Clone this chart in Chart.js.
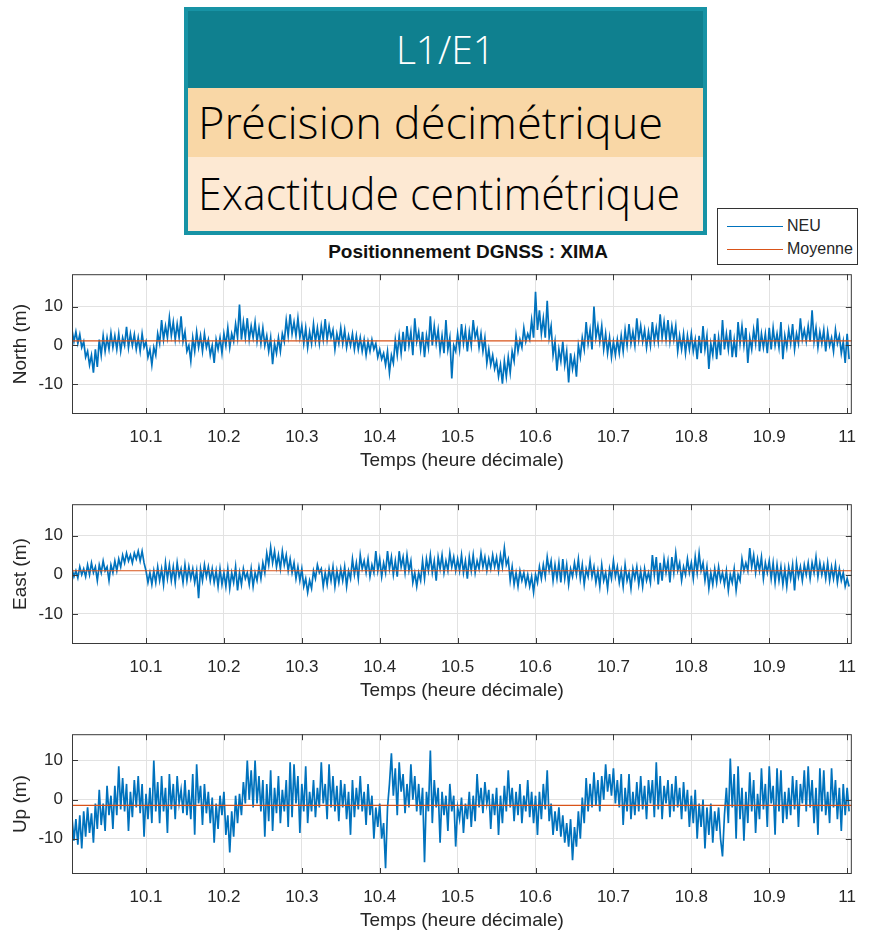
<!DOCTYPE html>
<html lang="fr">
<head>
<meta charset="utf-8">
<title>Positionnement DGNSS : XIMA</title>
<script src="https://cdn.jsdelivr.net/npm/chart.js@4.4.1/dist/chart.umd.min.js"></script>
<style>
  html, body { margin: 0; padding: 0; background: #fff; }
  body { position: relative; width: 869px; height: 932px; overflow: hidden; font-family: "Liberation Sans", Arial, sans-serif; }
  #card { position: absolute; left: 184px; top: 7px; width: 523px; height: 228px; box-sizing: border-box;
          border: 4px solid #1793a5; font-family: "Open Sans Light", "Lato Light", "Open Sans", sans-serif; font-weight: 300; }
  #card > div { white-space: nowrap; overflow: hidden; }
  #card .head { height: 77px; line-height: 77px; background: #0f808f; color: #fff; text-align: center; font-size: 38px; }
  #card .row { padding-left: 10px; color: #000; font-size: 44px; }
  #card .r1 { height: 69px; line-height: 69px; background: #f9d7a6; }
  #card .r2 { height: 74px; line-height: 72px; background: #fde9d3; }
  .fit { display: inline-block; transform-origin: 0 50%; }
  .head .fit { transform-origin: 50% 50%; }
  #title { position: absolute; left: 72px; width: 792px; top: 241px; text-align: center; font-weight: bold; font-size: 19px; color: #111; }
  #legend { position: absolute; left: 717px; top: 208px; width: 141px; height: 57px; box-sizing: border-box;
            border: 1px solid #333; background: #fff; z-index: 2; font-size: 16px; color: #262626; }
  #legend .swatch { position: absolute; left: 9px; width: 56px; height: 0; border-top: 1.5px solid; }
  #legend .txt { position: absolute; left: 69px; line-height: 18px; }
  canvas { position: absolute; left: 0; }
</style>
</head>
<body>
<div id="card">
  <div class="head"><span class="fit" data-w="99">L1/E1</span></div>
  <div class="row r1"><span class="fit" data-w="465">Précision décimétrique</span></div>
  <div class="row r2"><span class="fit" data-w="482">Exactitude centimétrique</span></div>
</div>
<div id="title">Positionnement DGNSS : XIMA</div>
<div id="legend">
  <span class="swatch" style="top:17px; border-color:#0072BD"></span><span class="txt" style="top:8px">NEU</span>
  <span class="swatch" style="top:40px; border-color:#D95319"></span><span class="txt" style="top:31px">Moyenne</span>
</div>
<canvas id="north" width="869" height="217" style="top:255px"></canvas>
<canvas id="east" width="869" height="217" style="top:485px"></canvas>
<canvas id="up" width="869" height="217" style="top:715px"></canvas>
<script>
// sampling grid (decimal hours), one sample every 0.0025 h, 20 samples per row below
const sampleStart = 10.005;
const sampleStep = 0.0025;
const hourMin = 10.005;
const hourMax = 11.006;
const hourTicks = [10.1, 10.2, 10.3, 10.4, 10.5, 10.6, 10.7, 10.8, 10.9, 11];
const metreTicks = [-10, 0, 10];

// North component (m)
const northValues = [
  4.0, 1.0, 3.5, 0.5, 2.8, -0.5, 1.0, -3.0, -1.5, -5.0, -2.5, -7.0, -1.0, -5.5, 1.5, -2.5, 2.5, -1.5, 2.0, -1.0,
  3.2, -0.5, 2.5, -1.0, 3.0, -1.5, 2.0, 0.0, 4.8, -0.5, 3.0, 0.0, 2.8, -1.0, 2.0, -1.5, 3.0, -0.5, 1.0, -3.0,
  -1.0, -5.0, -0.5, -2.5, 3.0, 0.5, 6.5, 1.5, 5.0, 2.0, 7.2, 2.5, 6.0, 1.5, 5.5, 2.0, 7.5, 1.0, 3.5, -1.5,
  0.0, -4.0, 2.0, -1.5, 3.5, -0.5, 2.5, -1.5, 3.0, -0.5, 1.5, -2.5, 0.0, -4.5, 1.5, -1.0, 2.0, -2.0, 3.0, 0.0,
  4.5, -0.5, 3.0, 1.0, 5.5, 2.0, 10.5, 1.5, 6.0, 2.0, 7.0, 1.5, 5.0, 2.0, 6.0, 1.0, 4.5, 0.5, 4.5, 0.0,
  2.5, -1.5, 2.0, -4.8, 0.5, -2.0, 2.0, -1.5, 3.0, 1.0, 6.5, 2.5, 8.0, 3.0, 6.0, 2.5, 7.0, 2.0, 5.0, 0.5,
  4.5, -0.5, 3.5, 0.5, 5.5, 1.0, 4.5, 0.5, 5.0, 1.5, 6.8, 1.5, 5.0, 2.0, 4.0, -1.0, 3.0, 0.5, 4.5, 0.5,
  4.0, -0.5, 2.5, 0.0, 3.0, -1.0, 2.5, -1.0, 2.0, -1.5, 1.5, -2.5, 1.0, -1.5, 1.5, -1.0, 0.5, -3.0, -1.0, -3.5,
  -2.0, -5.0, -1.5, -7.0, -2.5, -4.5, 1.5, -2.5, 2.5, -2.0, 3.5, -1.5, 5.0, 0.0, 3.5, -2.5, 7.0, 1.0, 3.5, -1.0,
  3.5, -3.0, 2.5, -0.5, 7.5, 0.0, 5.0, 0.5, 4.0, -1.5, 2.5, -2.0, 6.5, -1.0, 2.0, -8.5, 0.0, -1.5, 3.0, -1.0,
  5.5, 0.5, 4.0, -1.5, 3.5, 0.0, 6.5, 2.0, 4.0, -0.5, 3.0, -1.5, 2.0, -4.5, -1.0, -5.0, -2.5, -6.0, -4.0, -8.0,
  -5.0, -9.8, -4.0, -8.0, -3.0, -7.0, -1.5, -4.0, 2.5, -1.5, 1.5, -0.5, 4.5, 1.0, 3.0, 1.5, 6.5, 2.0, 13.8, 4.0,
  9.0, 3.0, 7.0, 2.0, 11.5, 2.0, 5.0, -2.5, 1.0, -6.5, -1.0, -4.0, 1.0, -5.0, -1.5, -9.5, -2.0, -6.0, -3.0, -8.0,
  0.0, -3.0, 2.0, -1.0, 6.0, 0.5, 4.0, -1.0, 10.0, 2.0, 5.0, 1.0, 5.0, -1.0, 3.0, -2.0, 2.0, -3.0, 1.0, -2.5,
  1.5, -2.0, 2.5, -1.5, 4.0, 0.0, 5.5, 0.5, 3.5, 0.0, 7.0, 1.5, 5.0, 1.0, 4.0, -0.5, 3.5, 0.0, 6.0, 1.0,
  4.5, 1.0, 8.0, 2.0, 6.0, 1.5, 6.5, 1.0, 5.0, 1.5, 5.0, -1.5, 2.5, -1.0, 3.0, -2.0, 2.5, -1.0, 3.0, -1.5,
  1.5, -3.5, 2.5, -2.0, 5.0, -1.0, 2.5, -6.0, 0.5, -2.5, 3.0, -3.5, 2.0, -2.5, 6.5, -1.0, 3.0, -1.0, 4.0, -3.0,
  1.5, -3.0, 6.0, 0.5, 5.0, 0.0, 4.5, -4.5, 2.0, -1.0, 4.0, 0.5, 7.0, -1.5, 3.0, -0.5, 3.0, -2.0, 4.5, -1.0,
  4.5, 0.0, 3.0, -0.5, 6.0, -3.5, 2.5, -0.5, 4.0, 0.5, 5.5, -1.0, 3.0, 0.5, 7.0, 1.5, 4.0, 1.0, 5.0, 1.0,
  9.0, 1.0, 4.5, -0.5, 3.5, 0.5, 4.0, -1.5, 3.5, 0.0, 2.0, -1.5, 4.0, 0.5, 2.5, -2.0, 1.0, -4.5, 3.0, -3.5
];

// East component (m)
const eastValues = [
  1.5, -0.5, 1.0, -0.8, 2.0, 0.0, 1.5, -0.5, 2.5, 0.0, 3.0, 0.5, 2.0, -1.5, 2.5, 0.5, 3.5, 1.0, 2.0, -1.5,
  2.5, 0.5, 3.5, 1.0, 4.0, 2.0, 5.0, 3.0, 5.5, 3.5, 5.0, 3.0, 5.5, 4.0, 6.0, 3.5, 6.0, 3.0, 1.0, -2.0,
  0.5, -2.5, 1.0, -2.0, 2.0, -1.5, 1.5, -2.5, 3.0, -1.0, 2.5, -1.5, 2.0, -2.0, 3.0, -0.5, 1.5, -2.0, 2.5, -1.5,
  2.0, -1.0, 1.5, -2.0, 1.0, -6.0, 1.5, -1.5, 2.5, -0.5, 2.0, -1.5, 1.5, -2.0, 1.0, -3.0, 1.5, -2.5, 0.5, -3.0,
  1.5, -3.5, 0.5, -2.0, 2.0, -4.0, 0.5, -2.5, 1.5, -1.0, 0.5, -2.5, 1.5, -3.0, 0.5, -1.5, 2.0, -1.0, 3.0, 0.5,
  5.5, 2.5, 7.0, 3.0, 6.0, 2.0, 5.0, 1.5, 6.0, 2.5, 5.0, 1.0, 4.0, 0.5, 3.0, -1.0, 2.0, -1.5, 1.5, -3.0,
  -1.0, -4.5, -1.5, -3.5, 1.0, -1.0, 2.5, 0.5, 1.5, -3.0, 0.5, -2.5, 1.5, -1.5, 2.0, -3.0, 1.0, -2.0, 1.5, -1.5,
  2.0, -3.0, 1.0, -1.0, 4.0, 0.0, 3.0, -1.0, 5.0, 1.5, 3.5, 0.5, 4.0, -0.5, 2.5, 0.5, 6.0, 1.0, 4.0, -0.5,
  3.0, 0.5, 6.0, 1.5, 4.5, 0.0, 3.5, -0.5, 6.0, 2.0, 4.5, 0.5, 5.0, 1.0, 3.5, -2.0, 0.5, -3.0, 0.5, -1.5,
  3.5, -1.0, 4.0, 1.0, 5.0, 0.5, 3.5, -1.5, 4.5, 1.5, 5.0, 0.5, 3.5, 1.0, 5.5, 2.0, 4.5, 1.0, 4.0, 1.0,
  5.0, 0.5, 3.5, -1.0, 4.5, 1.0, 5.0, 0.5, 3.5, 1.5, 5.5, 2.0, 4.5, 1.0, 4.0, 1.5, 5.0, 2.0, 4.5, 1.0,
  5.0, 2.0, 6.8, 2.5, 4.0, -1.5, 2.0, -2.5, 0.5, -3.0, 1.0, -1.5, 0.5, -2.5, 0.0, -3.0, -0.5, -4.5, 0.0, -2.0,
  2.0, -1.0, 2.5, -0.5, 4.5, 1.0, 3.5, -1.5, 2.5, -1.0, 3.0, -2.0, 4.0, -1.0, 2.5, -2.5, 1.5, -0.5, 3.0, 0.0,
  4.0, -1.0, 2.5, -2.5, 1.5, -0.5, 3.5, -0.5, 2.0, -2.0, 1.0, -3.0, 2.5, -1.5, 0.5, -3.5, 1.5, -1.0, 3.5, -0.5,
  2.0, -2.0, 1.0, -3.0, 2.5, -1.5, 0.5, -3.5, 1.5, -1.0, 2.0, -2.5, 1.0, -3.0, 1.5, -1.5, 0.5, -2.0, 5.0, 0.0,
  4.5, -2.5, 3.0, -1.5, 4.0, 0.5, 3.5, -2.0, 4.5, 0.5, 5.5, 1.0, 3.0, -1.5, 2.0, 0.0, 4.0, 0.5, 3.0, -1.0,
  4.5, 0.5, 5.5, 1.0, 3.0, -1.5, 2.0, -3.5, 0.5, -2.5, 1.5, -2.0, 2.0, -1.5, 0.5, -2.5, 1.0, -4.0, 0.0, -2.0,
  1.5, -4.0, 0.0, -1.5, 4.0, 1.0, 3.0, 1.0, 6.8, 2.0, 5.0, 0.5, 4.0, 1.0, 4.5, -1.0, 3.0, 0.5, 3.5, -1.0,
  3.0, -2.0, 2.5, -1.5, 2.0, -2.5, 1.5, -3.0, 2.0, -1.0, 2.5, -4.0, 3.0, -0.5, 2.0, -1.5, 2.5, 0.0, 3.0, -1.0,
  3.0, 0.5, 4.5, -0.5, 3.0, 0.0, 2.5, -1.0, 3.0, -1.5, 2.0, -1.0, 2.5, -2.0, 1.5, -1.5, 0.5, -3.0, -1.0, -3.0
];

// Up component (m)
const upValues = [
  -4.5, -10.5, -5, -11.5, -4, -12.5, -3, -9.5, -2, -8.5, -3.5, -11, -1, -7.5, 2.5, -6.5, -1, -8, 3.5, -4,
  1, -7.5, 3.5, -4, 8.5, -2.5, 5.5, -3, 4, -8, 2, -4.5, 5, -2, 6, -3.5, 4, -9.5, 1.5, -5,
  3, -6, 10, -3, 4.5, -6, 6, -3, 3, -8.5, 6.5, -2.5, 4, -5, 6, -1, 2.5, -3.5, 5, -4,
  2.5, -5, 6.5, -9, 9, -1, 3.5, -6.5, 4, -3.5, 2, -6, 0.5, -11, -1, -7.5, 1, -4, 2, -9,
  -4, -13.5, -3, -9.5, 1, -6, 1.5, -4, 4.5, -1, 10, 0, 7.5, -2, 10, -1, 6, -3, 5, -9.5,
  4, -5.5, 7.5, -8, 3, -3.5, 6, -6, 2.5, -3, 5, -7, 9.5, -4.5, 9, -1, 6, -8.5, 4, -3,
  8.5, -6, 2, -3, 5, -4.5, 3, -2, 9.5, -1, 4, -5, 9, -2, 6, -3, 3.5, -5.5, 5, -2,
  4, -5, 2, -9, 5, -4.5, 3, -2.5, 6, -3, 2, -6.5, 4, -4, 1, -10, -2, -7, -1, -10,
  -6, -17.5, -2, 4, 11.8, 1, 8, -4, 9.5, 2, 6.5, -3.5, 4, -2, 9, 0, 6, -3, 4, -4,
  3, -16, 2, -3, 12.5, -6, 5, -2, 3, -11, 2, -4, 1, -8, 4, -3, 1, -12, -2, -5,
  0.5, -8.5, -1, -5, 2, -7, 1, -5.5, 6.5, -2, 3, -3.5, 4.5, -1, 2.5, -7.5, 1.5, -4, 3, -9,
  1, -6, 3.5, -3, 7.5, -2, 3, -5.5, 2, -4, 4, -6, 1, -3, 5, -4.5, 2, -6, 1, -9,
  2, -5, 4, -2.5, 7.5, -5.5, -1, -9, -3, -8, -2, -9.5, -4, -11, -6, -12, -5, -15.5, -7, -12,
  -3, -10, 0.5, -6, 5.5, -3, 4, -2, 7, -1.5, 5, -3, 6, 0, 9, 2, 6.5, 1, 8, -1,
  5, -2, 6.5, -6.5, 3, -3, 6.5, -5, 2, -4, 4.5, -3, 6, -2.5, 3.5, -5, 5, -1, 5, -4.5,
  9.5, -2.5, 6, -5, 3.5, -1, 5, -4.5, 4, -3, 6, -2, 3, -5, 4.5, -3, 2.5, -7, 1, -6,
  2.5, -10, -1, -7, 0, -12.5, -2, -9, -1, -11, -3, -8, -2, -10, -14.5, -4, 3, -6, 10.5, -2,
  6.5, -10, 8.5, -5, 3, -10.5, 2, -6, 7, -3, 5, -8.5, 1.5, -5, 8, -2.5, 4, -7, 8.5, -1,
  3.5, -9, 8, -3, 7.5, -6, 2, -5, 3, -4, 6, -2.5, 5, -7, 4, -1, 7.5, -3, 8.5, -2,
  5, -6, 3, -9, 8, -3, 7.5, -4, 2, -6, 8, -2, 5, -5, 3, -8, 4, -4, 3, -3
];

// mean of each component (m)
const northMean = 1.2;
const eastMean = 1.0;
const upMean = -1.5;

Chart.defaults.font.family = '"Liberation Sans", Arial, sans-serif';
Chart.defaults.color = '#262626';

// axes box with inward tick marks, drawn over the traces
const axesBox = {
  id: 'axesBox',
  afterDatasetsDraw(chart) {
    const { ctx, chartArea: a, scales } = chart;
    ctx.save();
    ctx.strokeStyle = '#3a3a3a';
    ctx.lineWidth = 1;
    ctx.strokeRect(a.left + 0.5, a.top + 0.5, a.right - a.left - 1, a.bottom - a.top - 1);
    ctx.beginPath();
    scales.x.ticks.forEach(t => {
      const x = Math.round(scales.x.getPixelForValue(t.value)) + 0.5;
      ctx.moveTo(x, a.bottom); ctx.lineTo(x, a.bottom - 6);
      ctx.moveTo(x, a.top); ctx.lineTo(x, a.top + 6);
    });
    scales.y.ticks.forEach(t => {
      const y = Math.round(scales.y.getPixelForValue(t.value)) + 0.5;
      ctx.moveTo(a.left, y); ctx.lineTo(a.left + 6, y);
      ctx.moveTo(a.right, y); ctx.lineTo(a.right - 6, y);
    });
    ctx.stroke();
    ctx.restore();
  }
};

function drawPanel(id, label, values, mean, yMin, yMax) {
  const points = values.map((v, i) => ({ x: sampleStart + i * sampleStep, y: v }));
  return new Chart(document.getElementById(id), {
    type: 'line',
    data: {
      datasets: [
        { label: 'NEU', data: points, borderColor: '#0072BD', borderWidth: 1.7, pointRadius: 0, order: 2 },
        { label: 'Moyenne', data: [{ x: hourMin, y: mean }, { x: hourMax, y: mean }],
          borderColor: '#D95319', borderWidth: 1.2, pointRadius: 0, order: 1 }
      ]
    },
    options: {
      responsive: false,
      animation: false,
      events: [],
      layout: { padding: { top: 10, right: 5, bottom: 0, left: 0 } },
      plugins: { legend: { display: false }, tooltip: { enabled: false } },
      scales: {
        x: {
          type: 'linear', min: hourMin, max: hourMax,
          afterBuildTicks: s => { s.ticks = hourTicks.map(v => ({ value: v })); },
          afterFit: s => { s.height = 58; },
          grid: { color: '#e2e2e2', drawTicks: false },
          border: { display: false },
          ticks: { padding: 13, font: { size: 17 }, maxRotation: 0, autoSkip: false,
                   callback: v => String(+v.toFixed(1)) },
          title: { display: true, text: 'Temps (heure décimale)', font: { size: 19 }, padding: { top: 0, bottom: 0 } }
        },
        y: {
          min: yMin, max: yMax,
          afterBuildTicks: s => { s.ticks = metreTicks.map(v => ({ value: v })); },
          afterFit: s => { s.width = 72; },
          grid: { color: '#e2e2e2', drawTicks: false },
          border: { display: false },
          ticks: { padding: 9, font: { size: 17 }, callback: v => String(v) },
          title: { display: true, text: label, font: { size: 19 }, padding: { top: 9, bottom: 0 } }
        }
      }
    },
    plugins: [axesBox]
  });
}

drawPanel('north', 'North (m)', northValues, northMean, -17.6, 18.3);
drawPanel('east', 'East (m)', eastValues, eastMean, -17.7, 18.0);
drawPanel('up', 'Up (m)', upValues, upMean, -19.0, 16.7);

// squeeze the card lines to their set widths
document.querySelectorAll('.fit').forEach(el => {
  const w = el.getBoundingClientRect().width;
  el.style.transform = 'scaleX(' + (el.dataset.w / w).toFixed(3) + ')';
});
</script>
</body>
</html>
